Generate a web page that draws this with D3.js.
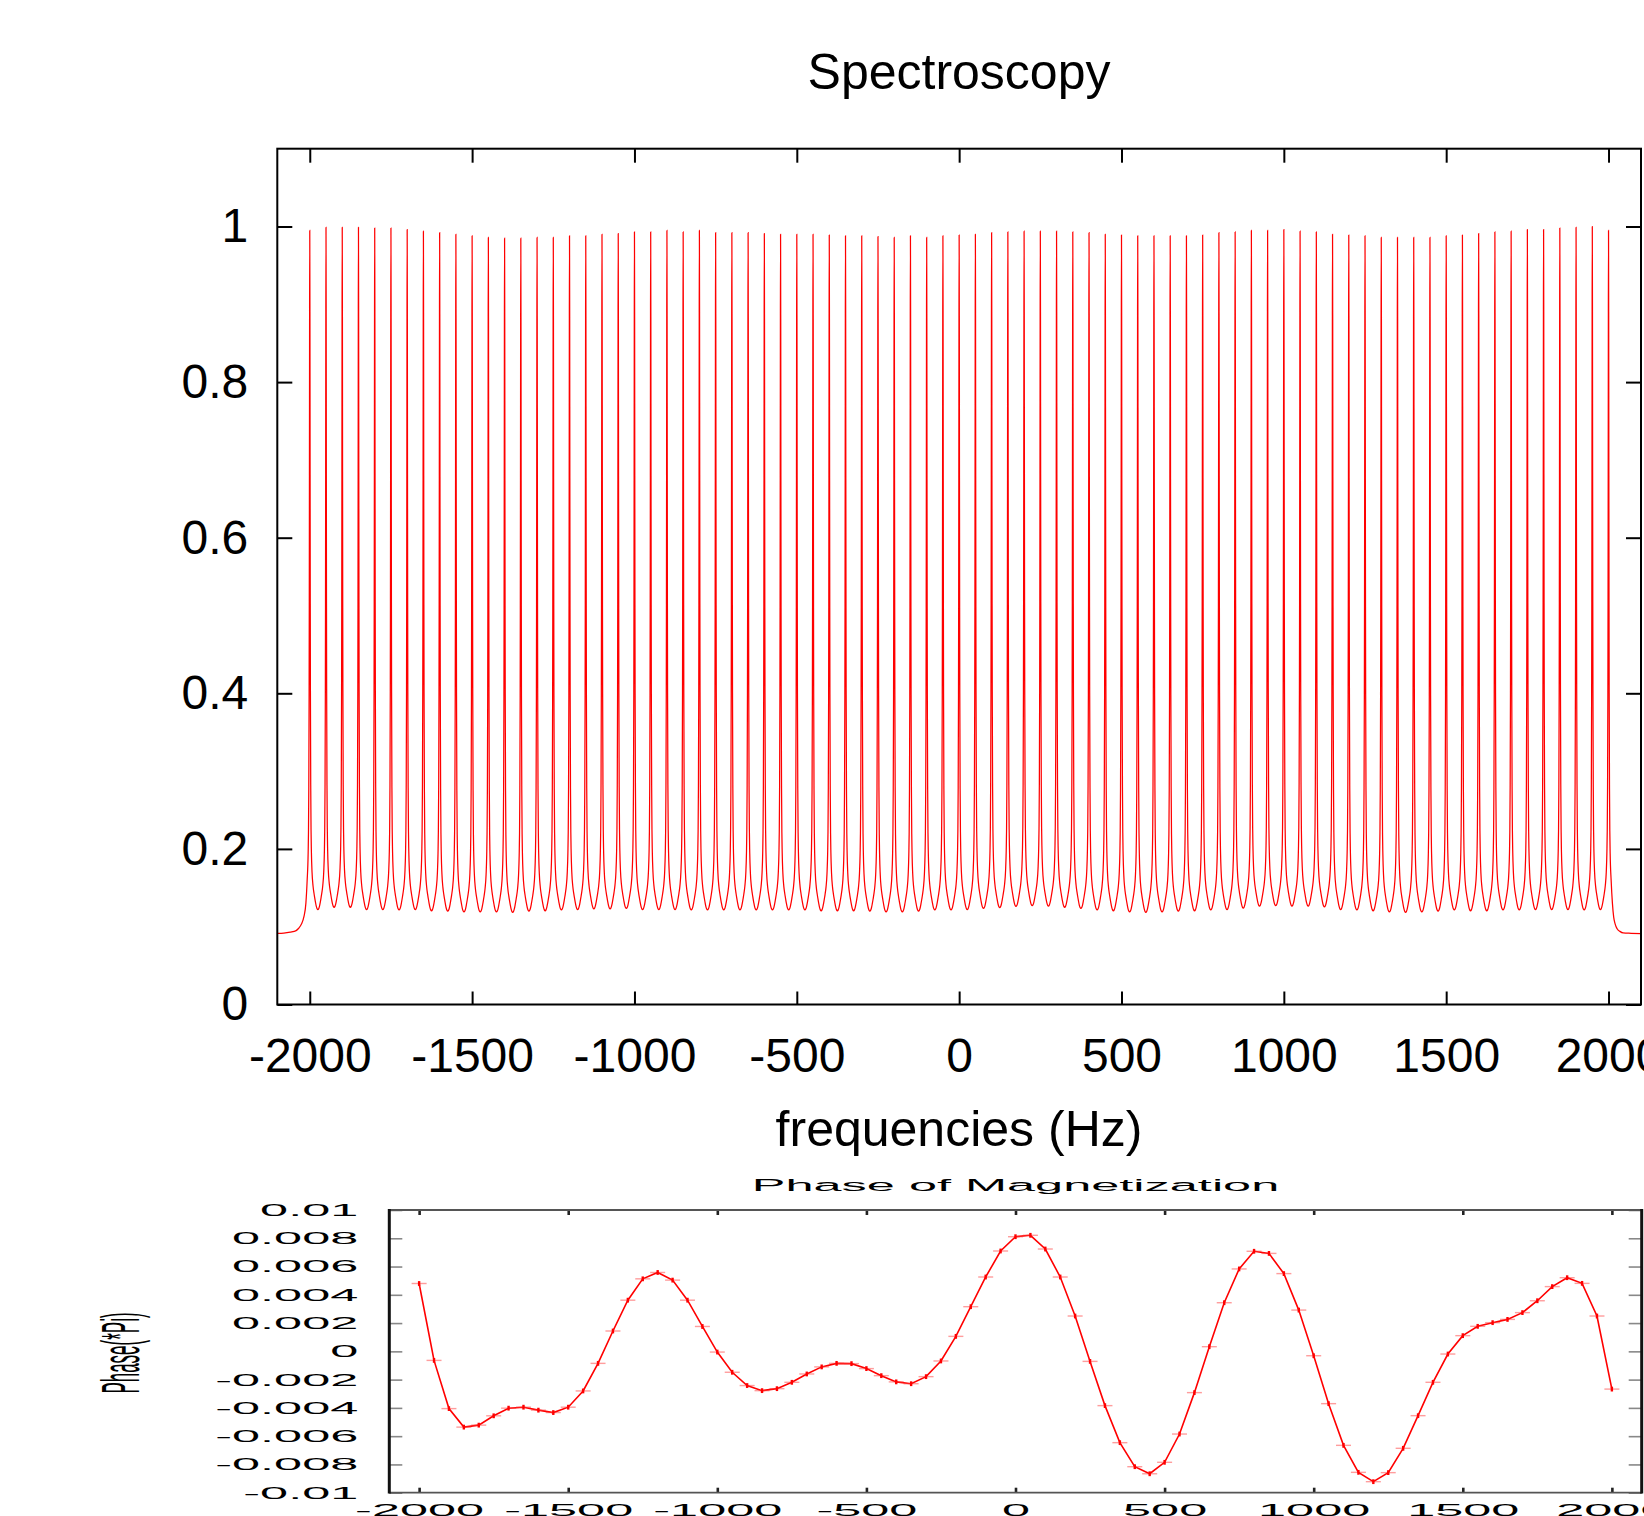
<!DOCTYPE html>
<html>
<head>
<meta charset="utf-8">
<script src="https://cdn.jsdelivr.net/npm/d3@7"></script>
<style>
body { margin: 0; background: #fff; }
svg { display: block; font-family: "Liberation Sans", Arial, sans-serif; }
</style>
</head>
<body>
<svg width="1644" height="1516"></svg>
<script>
// peak centres (Hz), also the sample points of the phase plot
const freqs = [
  -2000,-1950,-1900,-1850,-1800,-1750,-1700,-1650,-1600,-1550,
  -1500,-1450,-1400,-1350,-1300,-1250,-1200,-1150,-1100,-1050,
  -1000,-950,-900,-850,-800,-750,-700,-650,-600,-550,
  -500,-450,-400,-350,-300,-250,-200,-150,-100,-50,
  0,50,100,150,200,250,300,350,400,450,
  500,550,600,650,700,750,800,850,900,950,
  1000,1050,1100,1150,1200,1250,1300,1350,1400,1450,
  1500,1550,1600,1650,1700,1750,1800,1850,1900,1950,
  2000
];
// height of each spectral peak
const peakLevel = [
  0.995,0.999,0.999,0.999,0.998,0.998,0.996,0.994,0.992,0.990,
  0.988,0.986,0.985,0.985,0.986,0.986,0.988,0.988,0.990,0.991,
  0.993,0.993,0.995,0.993,0.995,0.992,0.992,0.992,0.991,0.990,
  0.990,0.990,0.989,0.988,0.988,0.987,0.986,0.988,0.986,0.988,
  0.989,0.990,0.992,0.993,0.994,0.994,0.994,0.993,0.992,0.990,
  0.989,0.988,0.988,0.988,0.988,0.989,0.992,0.993,0.995,0.995,
  0.996,0.994,0.993,0.990,0.989,0.988,0.986,0.986,0.986,0.986,
  0.988,0.989,0.991,0.993,0.994,0.996,0.996,0.998,0.999,1.000,
  0.995
];
// minimum between neighbouring peaks (-1975 ... 1975 Hz)
const troughLevel = [
  0.122,0.125,0.125,0.122,0.122,0.1215,0.122,0.1205,0.120,0.119,
  0.119,0.119,0.1185,0.120,0.1205,0.1215,0.122,0.123,0.123,0.1235,
  0.122,0.122,0.122,0.1215,0.1215,0.1215,0.1215,0.1215,0.1215,0.1215,
  0.1215,0.1205,0.1205,0.1205,0.120,0.119,0.119,0.120,0.1215,0.1215,
  0.122,0.1235,0.1245,0.126,0.127,0.1265,0.125,0.1235,0.1215,0.1205,
  0.119,0.1185,0.119,0.120,0.1205,0.1215,0.122,0.124,0.1265,0.127,
  0.1265,0.1265,0.1255,0.122,0.1215,0.1205,0.119,0.1185,0.119,0.120,
  0.1215,0.1205,0.1205,0.1215,0.1215,0.122,0.122,0.122,0.1215,0.122
];
// shape of one half period: distance from peak (Hz) and relative height
const profileHz    = [0, 0.5, 1, 1.5, 2, 3, 4, 5, 7, 10, 13, 15, 17.5, 20, 22.5, 25];
const profileLevel = [1, 0.88, 0.64, 0.45, 0.32, 0.18, 0.115, 0.085, 0.055, 0.035, 0.024, 0.018, 0.011, 0.005, 0.0013, 0];
// the flat edges outside the comb
const leftTailHz     = [-2100, -2080, -2060, -2042, -2034, -2026, -2018, -2012, -2008];
const leftTailLevel  = [0.0915, 0.0918, 0.093, 0.095, 0.098, 0.103, 0.113, 0.13, 0.16];
const rightTailHz    = [2008, 2012, 2016, 2020, 2027, 2035, 2045, 2070, 2100];
const rightTailLevel = [0.16, 0.13, 0.112, 0.104, 0.097, 0.094, 0.092, 0.0915, 0.091];
const edgeBase = 0.12;

// phase of magnetization (*Pi) at each of freqs
const phase = [
  0.0048,-0.00064,-0.00405,-0.00536,-0.00522,-0.00456,-0.00402,-0.00395,-0.00416,-0.00433,
  -0.00395,-0.0028,-0.00085,0.00144,0.00362,0.00513,0.00558,0.00504,0.00362,0.00176,
  -0.00005,-0.00148,-0.00242,-0.00278,-0.00264,-0.00219,-0.0016,-0.0011,-0.00085,-0.00087,
  -0.00122,-0.00172,-0.00216,-0.00229,-0.00179,-0.00068,0.00106,0.00316,0.00526,0.0071,
  0.00811,0.00821,0.00724,0.00526,0.0025,-0.00071,-0.00384,-0.00646,-0.00816,-0.00866,
  -0.00785,-0.00585,-0.00292,0.00033,0.00344,0.00583,0.00708,0.00693,0.0055,0.00292,
  -0.00031,-0.0037,-0.00665,-0.00856,-0.00922,-0.00858,-0.00686,-0.00455,-0.00219,-0.00019,
  0.00111,0.00177,0.00203,0.00226,0.00274,0.00358,0.00458,0.00521,0.00481,0.0025,
  -0.00267
];

const xTicks = [-2000, -1500, -1000, -500, 0, 500, 1000, 1500, 2000];
const specYTicks = [0, 0.2, 0.4, 0.6, 0.8, 1];
const phaseYTicks = [-0.01, -0.008, -0.006, -0.004, -0.002, 0, 0.002, 0.004, 0.006, 0.008, 0.01];

const svg = d3.select('svg');
svg.append('rect').attr('width', 1644).attr('height', 1516).attr('fill', '#fff');

// ---------------- upper plot : Spectroscopy ----------------
const x1 = d3.scaleLinear().domain([-2100, 2100]).range([277.3, 1641]);
const y1 = d3.scaleLinear().domain([0, 1.1]).range([1004.5, 148.7]);

svg.append('text').attr('x', 959).attr('y', 89).attr('text-anchor', 'middle')
  .attr('font-size', 50).text('Spectroscopy');

// build the spectrum from peaks, troughs and the half period shape
const spec = leftTailHz.map((f, i) => [f, leftTailLevel[i]]);
freqs.forEach((f, i) => {
  const p = peakLevel[i];
  const baseL = i === 0 ? edgeBase : troughLevel[i - 1];
  const baseR = i === freqs.length - 1 ? edgeBase : troughLevel[i];
  const maxL = i === 0 ? 5 : 25;
  const maxR = i === freqs.length - 1 ? 5 : 22.5;
  for (let k = profileHz.length - 1; k > 0; k--) {
    if (profileHz[k] <= maxL) spec.push([f - profileHz[k], baseL + (p - baseL) * profileLevel[k]]);
  }
  spec.push([f, p]);
  for (let k = 1; k < profileHz.length; k++) {
    if (profileHz[k] <= maxR) spec.push([f + profileHz[k], baseR + (p - baseR) * profileLevel[k]]);
  }
});
rightTailHz.forEach((f, i) => spec.push([f, rightTailLevel[i]]));

svg.append('path')
  .datum(spec)
  .attr('fill', 'none')
  .attr('stroke', '#ff0000')
  .attr('stroke-width', 1.25)
  .attr('d', d3.line().x(d => x1(d[0])).y(d => y1(d[1])).curve(d3.curveMonotoneX));

const styleAxis = (g, size, col, w) => {
  g.attr('font-family', null).attr('font-size', size);
  g.select('.domain').remove();
  g.selectAll('line').attr('stroke', col).attr('stroke-width', w);
  g.selectAll('text').attr('fill', '#000');
};

svg.append('g').attr('transform', `translate(0,${y1(0)})`)
  .call(d3.axisBottom(x1).tickValues(xTicks).tickFormat(d => String(d))
    .tickSize(-13).tickSizeOuter(0).tickPadding(33))
  .call(g => styleAxis(g, 48, '#000', 2));
svg.append('g').attr('transform', `translate(0,${y1(1.1)})`)
  .call(d3.axisTop(x1).tickValues(xTicks).tickFormat('').tickSize(-14).tickSizeOuter(0))
  .call(g => styleAxis(g, 48, '#000', 2));
svg.append('g').attr('transform', `translate(${x1(-2100)},0)`)
  .call(d3.axisLeft(y1).tickValues(specYTicks).tickFormat(d => String(d))
    .tickSize(-15).tickSizeOuter(0).tickPadding(29))
  .call(g => styleAxis(g, 48, '#000', 2));
svg.append('g').attr('transform', `translate(${x1(2100)},0)`)
  .call(d3.axisRight(y1).tickValues(specYTicks).tickFormat('').tickSize(-15).tickSizeOuter(0))
  .call(g => styleAxis(g, 48, '#000', 2));

svg.append('rect')
  .attr('x', x1(-2100)).attr('y', y1(1.1))
  .attr('width', x1(2100) - x1(-2100)).attr('height', y1(0) - y1(1.1))
  .attr('fill', 'none').attr('stroke', '#000').attr('stroke-width', 2);

svg.append('text').attr('x', 959).attr('y', 1146).attr('text-anchor', 'middle')
  .attr('font-size', 50).text('frequencies (Hz)');

// ---------------- lower plot : Phase of Magnetization ----------------
// this panel is horizontally stretched, text included
const S = 2.97;
const x2 = d3.scaleLinear().domain([-2100, 2100]).range([389.3, 1641.7]);
const y2 = d3.scaleLinear().domain([-0.01, 0.01]).range([1492.7, 1210]);

const phaseFmt = d => d === 0 ? '0' : String(+d.toFixed(3));
const yPad = 31;

svg.append('g').attr('transform', `translate(${x2(-2100)},0)`)
  .call(d3.axisLeft(y2).tickValues(phaseYTicks).tickFormat(phaseFmt)
    .tickSize(-13).tickSizeOuter(0).tickPadding(yPad))
  .call(g => styleAxis(g, 17, '#888', 1.6))
  .call(g => g.selectAll('text').attr('x', -yPad / S).attr('transform', `scale(${S},1)`));
svg.append('g').attr('transform', `translate(${x2(2100)},0)`)
  .call(d3.axisRight(y2).tickValues(phaseYTicks).tickFormat('').tickSize(-13).tickSizeOuter(0))
  .call(g => styleAxis(g, 17, '#888', 1.6));
svg.append('g').attr('transform', `translate(0,${y2(-0.01)})`)
  .call(d3.axisBottom(x2).tickValues(xTicks).tickFormat(d => String(d))
    .tickSize(-5).tickSizeOuter(0).tickPadding(11))
  .call(g => styleAxis(g, 17, '#222', 2.6))
  .call(g => g.selectAll('text').attr('transform', `scale(${S},1)`));
svg.append('g').attr('transform', `translate(0,${y2(0.01)})`)
  .call(d3.axisTop(x2).tickValues(xTicks).tickFormat('').tickSize(-5).tickSizeOuter(0))
  .call(g => styleAxis(g, 17, '#222', 2.6));

// frame: thin grey horizontals, heavy verticals
const fr = svg.append('g');
[0.01, -0.01].forEach(v => fr.append('line')
  .attr('x1', x2(-2100)).attr('x2', x2(2100)).attr('y1', y2(v)).attr('y2', y2(v))
  .attr('stroke', '#555').attr('stroke-width', 1.8));
[-2100, 2100].forEach(v => fr.append('line')
  .attr('x1', x2(v)).attr('x2', x2(v)).attr('y1', y2(0.01) - 0.9).attr('y2', y2(-0.01) + 0.9)
  .attr('stroke', '#111').attr('stroke-width', 3));

svg.append('text')
  .attr('transform', `translate(1015.5,1191) scale(${S},1)`)
  .attr('text-anchor', 'middle').attr('font-size', 17)
  .text('Phase of Magnetization');

svg.append('text')
  .attr('transform', `translate(139,1353) rotate(-90) scale(1,${S * 1.05})`)
  .attr('text-anchor', 'middle').attr('font-size', 17)
  .text('Phase(*Pi)');

const phasePts = freqs.map((f, i) => [f, phase[i]]);
svg.append('path')
  .datum(phasePts)
  .attr('fill', 'none')
  .attr('stroke', '#ff0000')
  .attr('stroke-width', 1.6)
  .attr('d', d3.line().x(d => x2(d[0])).y(d => y2(d[1])));

const marks = svg.append('g').selectAll('g').data(phasePts).enter().append('g')
  .attr('transform', d => `translate(${x2(d[0])},${y2(d[1])})`);
marks.append('path').attr('d', 'M-7.5,0H7.5')
  .attr('stroke', 'rgba(255,60,60,0.5)').attr('stroke-width', 1.4);
marks.append('path').attr('d', 'M0,-2.4V2.4')
  .attr('stroke', '#ff0000').attr('stroke-width', 2.4);
</script>
</body>
</html>
